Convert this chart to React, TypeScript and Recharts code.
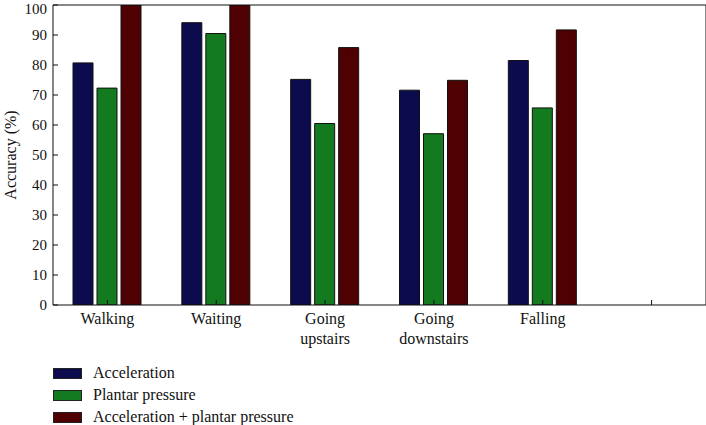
import { Bar, BarChart, Legend, XAxis, YAxis } from "recharts";

const categories = ["Walking", "Waiting", "Going\nupstairs", "Going\ndownstairs", "Falling", ""];
const acceleration = [80.7, 94.1, 75.2, 71.6, 81.5, null];
const plantar = [72.3, 90.5, 60.5, 57.1, 65.7, null];
const combined = [100, 100, 85.8, 74.9, 91.7, null];
const yTicks = [0, 10, 20, 30, 40, 50, 60, 70, 80, 90, 100];

const SERIES = [
  { key: "acc", name: "Acceleration", color: "#0b0b4d" },
  { key: "plant", name: "Plantar pressure", color: "#137a1f" },
  { key: "both", name: "Acceleration + plantar pressure", color: "#4f0003" }
];

const data = categories.map((name, i) => ({
  name,
  acc: acceleration[i],
  plant: plantar[i],
  both: combined[i]
}));

const FONT = '"Liberation Serif", "Times New Roman", serif';

function CategoryTick({ x, y, payload }: any) {
  const lines = String(payload.value).split("\n");
  return (
    <text x={x} y={y} textAnchor="middle" fontFamily={FONT} fontSize={16} fill="#111">
      {lines.map((l, i) => (
        <tspan key={i} x={x} dy={i === 0 ? 19 : 20}>
          {l}
        </tspan>
      ))}
    </text>
  );
}

function LegendBox() {
  return (
    <div style={{ fontFamily: FONT, fontSize: 16, color: "#111" }}>
      {SERIES.map((s) => (
        <div key={s.key} style={{ display: "flex", alignItems: "center", height: 22 }}>
          <span
            style={{
              display: "inline-block",
              width: 27,
              height: 9,
              background: s.color,
              border: "1px solid #222",
              marginLeft: 53,
              marginRight: 11
            }}
          />
          <span>{s.name}</span>
        </div>
      ))}
    </div>
  );
}

export default function App() {
  return (
    <div style={{ position: "absolute", left: 0, top: 0, background: "#fff" }}>
      <BarChart
        width={706}
        height={425}
        data={data}
        margin={{ top: 5, right: 0, bottom: 0, left: 0 }}
        barSize={20}
        barGap={4}
      >
        <XAxis
          dataKey="name"
          interval={0}
          height={120}
          stroke="#111"
          tickSize={-5}
          tickMargin={5}
          tick={<CategoryTick />}
        />
        <XAxis
          xAxisId="top"
          dataKey="name"
          orientation="top"
          mirror
          height={1}
          interval={0}
          stroke="#111"
          tickSize={5}
          tick={false}
        />
        <YAxis
          domain={[0, 100]}
          ticks={yTicks}
          width={53}
          stroke="#111"
          tickSize={-5}
          tickMargin={11}
          tick={{ fontFamily: FONT, fontSize: 15, fill: "#111" }}
          allowDataOverflow
          label={{
            content: () => (
              <text
                x={12}
                y={155}
                transform="rotate(-90 12 155)"
                textAnchor="middle"
                dominantBaseline="middle"
                fontFamily={FONT}
                fontSize={16}
                fill="#111"
              >
                Accuracy (%)
              </text>
            )
          }}
        />
        <YAxis
          yAxisId="right"
          orientation="right"
          mirror
          width={1}
          domain={[0, 100]}
          ticks={yTicks}
          stroke="#111"
          tickSize={5}
          tick={false}
        />
        <Legend
          layout="vertical"
          align="center"
          verticalAlign="middle"
          wrapperStyle={{ left: 0, top: 362, width: 400 }}
          content={() => <LegendBox />}
        />
        {SERIES.map((s) => (
          <Bar
            key={s.key}
            dataKey={s.key}
            name={s.name}
            fill={s.color}
            stroke="#111"
            strokeWidth={1}
            isAnimationActive={false}
          />
        ))}
      </BarChart>
    </div>
  );
}
